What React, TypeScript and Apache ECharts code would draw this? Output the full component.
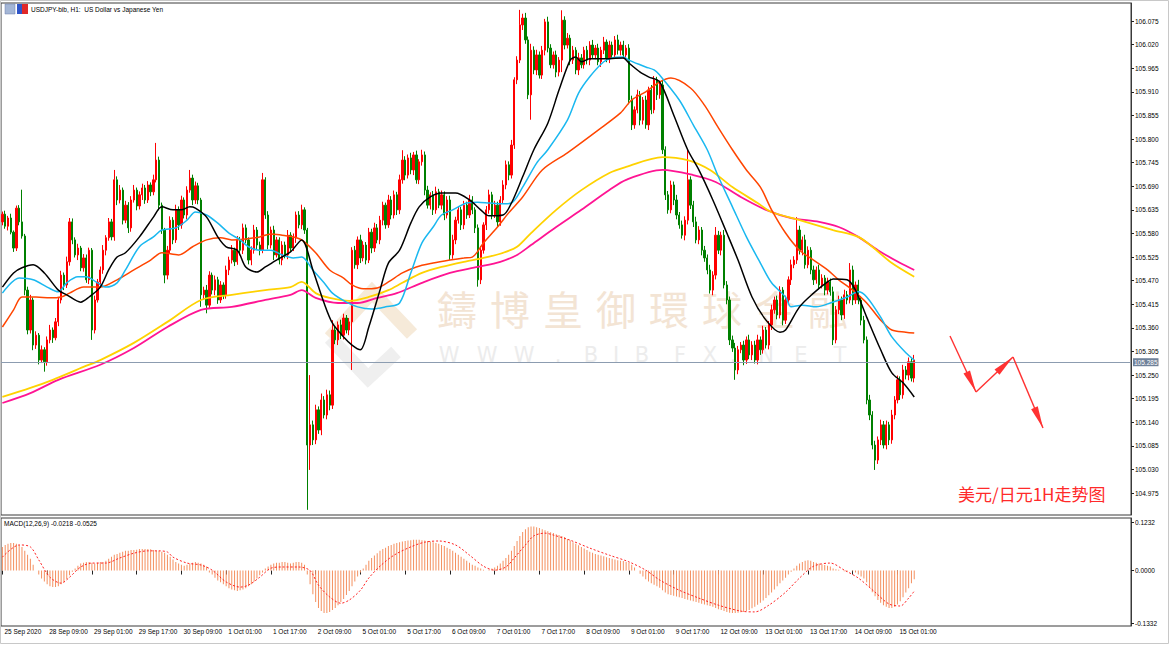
import React, { useEffect, useRef } from 'react';
import * as echarts from 'echarts';

// ---------- tick labels ----------
const timeTickLabels = [
  '25 Sep 2020', '28 Sep 09:00', '29 Sep 01:00', '29 Sep 17:00', '30 Sep 09:00', '1 Oct 01:00',
  '1 Oct 17:00', '2 Oct 09:00', '5 Oct 01:00', '5 Oct 17:00', '6 Oct 09:00', '7 Oct 01:00',
  '7 Oct 17:00', '8 Oct 09:00', '9 Oct 01:00', '9 Oct 17:00', '12 Oct 09:00', '13 Oct 01:00',
  '13 Oct 17:00', '14 Oct 09:00', '15 Oct 01:00',
];
const priceTicks = [
  104.975, 105.03, 105.085, 105.14, 105.195, 105.25, 105.305, 105.36, 105.415, 105.47, 105.525,
  105.58, 105.635, 105.69, 105.745, 105.8, 105.855, 105.91, 105.965, 106.02, 106.075,
];
const macdTicks = [-0.1332, 0, 0.1232];
const lastPrice = 105.285;

// ---------- candles (H1) ----------
const firstOpen = 105.607;
const closes = [
  105.625, 105.597, 105.616, 105.583, 105.546, 105.639, 105.607, 105.574, 105.448, 105.355,
  105.425, 105.320, 105.343, 105.285, 105.309, 105.281, 105.332, 105.355, 105.337, 105.374,
  105.425, 105.483, 105.460, 105.514, 105.607, 105.565, 105.530, 105.546, 105.500, 105.523,
  105.472, 105.541, 105.355, 105.425, 105.467, 105.495, 105.541, 105.570, 105.607, 105.572,
  105.705, 105.658, 105.681, 105.611, 105.646, 105.593, 105.658, 105.681, 105.644, 105.670,
  105.686, 105.658, 105.693, 105.677, 105.705, 105.751, 105.646, 105.588, 105.483, 105.541,
  105.611, 105.565, 105.635, 105.600, 105.658, 105.623, 105.681, 105.709, 105.658, 105.691,
  105.658, 105.437, 105.448, 105.413, 105.483, 105.448, 105.472, 105.425, 105.460, 105.437,
  105.495, 105.518, 105.541, 105.514, 105.565, 105.541, 105.593, 105.565, 105.518, 105.541,
  105.588, 105.553, 105.541, 105.705, 105.623, 105.553, 105.588, 105.530, 105.565, 105.518,
  105.553, 105.530, 105.576, 105.546, 105.570, 105.623, 105.600, 105.635, 105.588, 105.087,
  105.134, 105.099, 105.169, 105.122, 105.192, 105.157, 105.204, 105.180, 105.355, 105.332,
  105.367, 105.343, 105.383, 105.355, 105.374, 105.541, 105.507, 105.565, 105.523, 105.553,
  105.518, 105.583, 105.546, 105.593, 105.565, 105.611, 105.646, 105.600, 105.658, 105.623,
  105.670, 105.635, 105.705, 105.751, 105.716, 105.756, 105.728, 105.763, 105.705, 105.747,
  105.763, 105.681, 105.646, 105.670, 105.635, 105.677, 105.646, 105.670, 105.623, 105.658,
  105.530, 105.565, 105.611, 105.635, 105.600, 105.646, 105.623, 105.658, 105.635, 105.593,
  105.472, 105.541, 105.600, 105.635, 105.670, 105.623, 105.646, 105.607, 105.658, 105.693,
  105.740, 105.716, 105.786, 105.938, 105.984, 106.066, 106.082, 106.031, 105.903, 106.007,
  105.961, 105.996, 105.949, 106.007, 106.073, 106.012, 105.973, 105.996, 105.956, 105.984,
  106.077, 106.019, 106.035, 105.984, 106.007, 105.961, 105.989, 105.973, 106.007, 105.984,
  106.019, 105.996, 106.012, 105.980, 106.007, 106.026, 105.989, 106.019, 105.996, 106.031,
  106.007, 106.019, 105.996, 106.012, 105.891, 105.833, 105.868, 105.903, 105.844, 105.891,
  105.833, 105.914, 105.868, 105.938, 105.903, 105.926, 105.775, 105.670, 105.635, 105.693,
  105.658, 105.623, 105.600, 105.576, 105.611, 105.705, 105.646, 105.607, 105.565, 105.588,
  105.541, 105.523, 105.495, 105.448, 105.483, 105.576, 105.541, 105.576, 105.460, 105.425,
  105.332, 105.313, 105.262, 105.309, 105.320, 105.285, 105.332, 105.297, 105.320, 105.285,
  105.332, 105.309, 105.355, 105.320, 105.367, 105.402, 105.425, 105.390, 105.448, 105.378,
  105.425, 105.472, 105.507, 105.518, 105.588, 105.541, 105.565, 105.507, 105.541, 105.495,
  105.472, 105.495, 105.460, 105.476, 105.448, 105.467, 105.444, 105.332, 105.402, 105.425,
  105.390, 105.437, 105.425, 105.495, 105.425, 105.460, 105.425, 105.378, 105.332, 105.192,
  105.157, 105.087, 105.052, 105.099, 105.134, 105.087, 105.134, 105.099, 105.157, 105.192,
  105.239, 105.204, 105.262, 105.250, 105.281, 105.243, 105.285,
];
// wick lengths above / below the body, in thousandths of a yen
const wickUp = [
  6, 8, 5, 10, 4, 6, 7, 75, 5, 8, 12, 6, 9, 5, 10, 6, 8, 12, 6, 9,
  7, 10, 6, 12, 9, 8, 6, 10, 5, 9, 8, 6, 5, 10, 7, 8, 12, 6, 9, 7,
  23, 8, 12, 6, 10, 7, 9, 12, 6, 8, 10, 7, 9, 6, 12, 40, 8, 6, 5, 10,
  9, 7, 12, 8, 10, 6, 9, 19, 8, 10, 7, 5, 8, 12, 9, 6, 10, 7, 9, 6,
  10, 8, 12, 6, 9, 7, 10, 8, 6, 9, 12, 7, 8, 16, 6, 9, 8, 10, 7, 6,
  9, 8, 12, 7, 10, 8, 9, 12, 6, 5, 116, 10, 12, 8, 15, 9, 12, 10, 23, 9,
  8, 12, 10, 7, 9, 7, 10, 8, 12, 9, 7, 10, 8, 12, 9, 10, 8, 6, 12, 9,
  10, 7, 12, 23, 9, 8, 12, 7, 10, 6, 12, 8, 10, 6, 9, 12, 7, 10, 8, 9,
  10, 12, 8, 9, 7, 10, 8, 12, 9, 6, 8, 10, 6, 9, 12, 7, 10, 8, 9, 11,
  10, 8, 12, 6, 9, 35, 10, 12, 8, 15, 9, 12, 8, 10, 7, 12, 9, 8, 10, 7,
  23, 9, 12, 8, 10, 7, 12, 9, 8, 10, 9, 12, 7, 10, 8, 12, 6, 10, 8, 9,
  12, 8, 10, 7, 9, 10, 8, 12, 9, 7, 10, 8, 12, 9, 7, 10, 12, 8, 9, 10,
  8, 12, 7, 10, 9, 70, 8, 10, 12, 9, 7, 10, 8, 12, 9, 19, 10, 8, 12, 9,
  8, 10, 12, 9, 7, 10, 8, 12, 9, 10, 12, 8, 10, 7, 9, 12, 8, 10, 9, 7,
  10, 8, 12, 9, 30, 10, 8, 12, 9, 7, 10, 8, 12, 9, 7, 10, 8, 12, 9, 10,
  8, 12, 9, 16, 10, 8, 12, 9, 10, 8, 12, 9, 10, 8, 12, 9, 10, 7, 12, 9,
  10, 8, 12, 9, 10, 8, 12,
];
const wickDn = [
  8, 6, 10, 5, 9, 7, 8, 6, 12, 10, 8, 12, 9, 10, 7, 23, 9, 8, 12, 6,
  10, 8, 12, 7, 9, 10, 6, 12, 8, 9, 7, 10, 23, 8, 6, 10, 9, 12, 7, 8,
  9, 12, 8, 10, 7, 12, 9, 6, 10, 8, 12, 9, 7, 10, 8, 6, 12, 9, 19, 10,
  8, 10, 7, 12, 9, 8, 10, 6, 12, 9, 10, 28, 12, 19, 8, 10, 12, 9, 7, 10,
  9, 12, 8, 10, 7, 12, 9, 8, 10, 12, 8, 10, 12, 7, 9, 10, 8, 12, 6, 10,
  12, 8, 10, 9, 7, 12, 8, 10, 9, 151, 58, 12, 10, 9, 12, 8, 10, 12, 9, 10,
  12, 9, 10, 8, 12, 112, 9, 10, 12, 8, 10, 7, 12, 9, 8, 10, 12, 9, 7, 10,
  8, 12, 10, 9, 12, 8, 10, 12, 9, 10, 9, 12, 8, 10, 12, 9, 7, 10, 12, 8,
  12, 9, 10, 8, 12, 10, 9, 7, 10, 12, 16, 10, 8, 12, 9, 10, 7, 12, 9, 8,
  10, 12, 8, 9, 10, 7, 12, 9, 10, 58, 10, 12, 8, 9, 12, 10, 8, 9, 12, 10,
  28, 10, 8, 12, 9, 10, 12, 8, 9, 10, 12, 9, 10, 8, 12, 9, 10, 12, 8, 9,
  10, 12, 8, 9, 10, 12, 9, 8, 12, 10, 9, 12, 10, 8, 12, 9, 10, 12, 9, 8,
  12, 10, 9, 8, 12, 10, 9, 12, 8, 10, 12, 9, 10, 8, 12, 10, 9, 12, 8, 10,
  12, 9, 23, 10, 8, 12, 9, 10, 12, 8, 10, 12, 9, 8, 10, 12, 9, 10, 8, 12,
  9, 10, 12, 8, 9, 10, 12, 9, 8, 10, 12, 9, 10, 8, 12, 10, 9, 12, 8, 10,
  12, 9, 10, 8, 12, 9, 10, 12, 8, 10, 12, 10, 23, 9, 12, 8, 10, 12, 9, 10,
  8, 12, 9, 10, 12, 8, 10,
];

// ---------- moving averages, read as [bar index, price] ----------
const maBlack = [
  [0, 105.455], [4, 105.488], [7, 105.5], [11, 105.507], [15, 105.488], [20, 105.448], [23, 105.437],
  [28, 105.42], [31, 105.432], [35, 105.455], [38, 105.495], [41, 105.525], [44, 105.535], [49, 105.572],
  [54, 105.618], [57, 105.642], [61, 105.635], [64, 105.635], [67, 105.642], [69, 105.639], [73, 105.618],
  [77, 105.572], [80, 105.549], [84, 105.541], [87, 105.502], [91, 105.49], [94, 105.502], [98, 105.518],
  [103, 105.537], [107, 105.565], [111, 105.495], [115, 105.418], [118, 105.371], [122, 105.339],
  [125, 105.32], [128, 105.309], [131, 105.362], [135, 105.448], [138, 105.511], [142, 105.541],
  [146, 105.604], [149, 105.642], [153, 105.665], [157, 105.674], [162, 105.674], [167, 105.658],
  [171, 105.635], [174, 105.621], [179, 105.623], [182, 105.651], [186, 105.712], [190, 105.775],
  [195, 105.837], [199, 105.914], [203, 105.984], [205, 105.991], [207, 105.98], [210, 105.987],
  [216, 105.987], [222, 105.989], [224, 105.977], [228, 105.956], [231, 105.945], [235, 105.933],
  [240, 105.856], [245, 105.775], [249, 105.728], [254, 105.658], [259, 105.581], [263, 105.518],
  [268, 105.432], [273, 105.378], [278, 105.35], [280, 105.355], [285, 105.409], [290, 105.441],
  [295, 105.467], [297, 105.474], [302, 105.472], [305, 105.448], [309, 105.385], [314, 105.309],
  [318, 105.255], [322, 105.232], [326, 105.199],
];
const maBlue = [
  [0, 105.441], [6, 105.476], [11, 105.472], [16, 105.455], [20, 105.444], [23, 105.465], [27, 105.479],
  [30, 105.479], [34, 105.465], [37, 105.455], [41, 105.465], [44, 105.495], [49, 105.549], [54, 105.572],
  [57, 105.588], [62, 105.593], [66, 105.611], [69, 105.63], [73, 105.623], [77, 105.604], [81, 105.581],
  [85, 105.565], [88, 105.549], [92, 105.541], [96, 105.541], [100, 105.53], [104, 105.523], [107, 105.525],
  [111, 105.495], [115, 105.465], [118, 105.441], [123, 105.42], [127, 105.409], [132, 105.404],
  [137, 105.409], [142, 105.418], [146, 105.488], [150, 105.558], [154, 105.595], [157, 105.623],
  [161, 105.635], [166, 105.651], [170, 105.653], [174, 105.651], [179, 105.649], [182, 105.651],
  [186, 105.688], [191, 105.744], [195, 105.775], [202, 105.844], [206, 105.907], [210, 105.945],
  [215, 105.98], [218, 105.989], [222, 105.991], [224, 105.984], [228, 105.973], [230, 105.968],
  [233, 105.961], [235, 105.949], [242, 105.891], [247, 105.833], [252, 105.775], [256, 105.712],
  [261, 105.642], [266, 105.572], [271, 105.511], [275, 105.465], [280, 105.432], [282, 105.409],
  [286, 105.413], [291, 105.409], [296, 105.418], [302, 105.432], [306, 105.444], [309, 105.432],
  [314, 105.385], [318, 105.339], [323, 105.302], [326, 105.285],
];
const maOrange = [
  [0, 105.362], [4, 105.402], [7, 105.432], [12, 105.432], [17, 105.43], [21, 105.432], [24, 105.441],
  [29, 105.455], [35, 105.455], [41, 105.472], [47, 105.495], [53, 105.518], [57, 105.535], [63, 105.53],
  [68, 105.549], [73, 105.565], [78, 105.57], [82, 105.565], [87, 105.567], [92, 105.572], [96, 105.579],
  [100, 105.576], [104, 105.572], [107, 105.565], [112, 105.535], [117, 105.495], [122, 105.476],
  [125, 105.46], [129, 105.451], [134, 105.453], [138, 105.467], [143, 105.488], [148, 105.502],
  [154, 105.511], [160, 105.518], [165, 105.523], [168, 105.525], [172, 105.558], [177, 105.595],
  [181, 105.628], [186, 105.665], [193, 105.728], [202, 105.768], [213, 105.821], [221, 105.861],
  [225, 105.891], [230, 105.91], [235, 105.933], [239, 105.942], [246, 105.919], [251, 105.879],
  [256, 105.826], [261, 105.775], [266, 105.728], [271, 105.688], [275, 105.635], [280, 105.581],
  [285, 105.541], [290, 105.518], [295, 105.495], [299, 105.472], [304, 105.448], [309, 105.418],
  [314, 105.378], [318, 105.355], [323, 105.35], [326, 105.348],
];
const maYellow = [
  [0, 105.199], [10, 105.22], [18, 105.239], [29, 105.269], [35, 105.285], [47, 105.325], [59, 105.374],
  [71, 105.425], [82, 105.437], [94, 105.448], [103, 105.455], [107, 105.467], [112, 105.441],
  [117, 105.43], [124, 105.423], [131, 105.432], [138, 105.448], [143, 105.465], [150, 105.488],
  [157, 105.502], [165, 105.514], [172, 105.523], [179, 105.535], [184, 105.549], [189, 105.581],
  [198, 105.635], [207, 105.681], [217, 105.721], [223, 105.735], [236, 105.758], [245, 105.751],
  [253, 105.728], [261, 105.688], [270, 105.651], [275, 105.63], [285, 105.611], [297, 105.588],
  [306, 105.572], [311, 105.549], [318, 105.511], [326, 105.479],
];
const maPink = [
  [0, 105.185], [10, 105.208], [20, 105.239], [35, 105.274], [47, 105.313], [59, 105.362], [71, 105.402],
  [82, 105.409], [94, 105.425], [103, 105.437], [107, 105.448], [112, 105.43], [120, 105.418],
  [127, 105.418], [134, 105.43], [141, 105.441], [150, 105.465], [160, 105.488], [170, 105.502],
  [178, 105.514], [184, 105.53], [189, 105.553], [198, 105.595], [207, 105.635], [217, 105.681],
  [223, 105.705], [236, 105.728], [247, 105.716], [255, 105.7], [264, 105.665], [273, 105.635],
  [282, 105.616], [292, 105.607], [299, 105.595], [306, 105.572], [313, 105.541], [321, 105.511],
  [326, 105.495],
];

// ---------- MACD(12,26,9) ----------
const macdMain = [
  0.060, 0.065, 0.068, 0.070, 0.070, 0.068, 0.065,
  0.060, 0.050, 0.040, 0.030,
  0.015, 0.000, -0.010,
  -0.020, -0.028, -0.035, -0.040, -0.042, -0.042, -0.040, -0.035, -0.030,
  -0.022, -0.012, -0.003, 0.005,
  0.012, 0.018, 0.020, 0.022, 0.022, 0.020, 0.018, 0.020, 0.022, 0.022,
  0.025, 0.030, 0.035, 0.040, 0.042, 0.045, 0.048, 0.050, 0.050, 0.052, 0.052, 0.053, 0.055, 0.055, 0.055, 0.055, 0.054, 0.052, 0.050, 0.050, 0.048, 0.045,
  0.040, 0.035, 0.028, 0.022, 0.018, 0.015, 0.012, 0.015, 0.018, 0.020, 0.022, 0.020, 0.018, 0.015, 0.010,
  -0.005, -0.010, -0.018, -0.025, -0.030, -0.035, -0.040, -0.045, -0.048, -0.050, -0.052, -0.050, -0.048, -0.045, -0.040, -0.035, -0.028, -0.020, -0.012, -0.005,
  0.005, 0.010, 0.015, 0.018, 0.020, 0.020, 0.022, 0.022, 0.020, 0.018, 0.020, 0.022, 0.022, 0.020,
  0.015,
  -0.010, -0.035, -0.060, -0.080, -0.095, -0.103, -0.108, -0.108, -0.105, -0.100, -0.095, -0.088, -0.080, -0.072, -0.062, -0.052,
  -0.040, -0.028, -0.015, -0.005, 0.005, 0.015, 0.025, 0.032, 0.038, 0.044, 0.050,
  0.055, 0.058, 0.062, 0.065, 0.068, 0.070, 0.072, 0.074, 0.075, 0.076, 0.077, 0.078, 0.078, 0.078, 0.077, 0.076, 0.075, 0.074, 0.072, 0.070, 0.068, 0.065, 0.062, 0.058, 0.055,
  0.050, 0.045, 0.040, 0.035, 0.030, 0.025, 0.020, 0.015, 0.012, 0.008, 0.005, 0.002, 0.000, 0.002, 0.005, 0.008, 0.012, 0.018, 0.025, 0.032,
  0.040, 0.050, 0.062, 0.075, 0.088, 0.098, 0.105, 0.110, 0.112, 0.112, 0.110, 0.108, 0.105, 0.102, 0.100, 0.097, 0.095, 0.092, 0.090, 0.088,
  0.085, 0.080, 0.076, 0.072, 0.068, 0.064, 0.060, 0.056, 0.052, 0.048, 0.045, 0.042, 0.040, 0.038, 0.036, 0.034, 0.032, 0.030, 0.028, 0.026, 0.025, 0.024, 0.022, 0.020, 0.015,
  0.008, 0.000, -0.008, -0.015, -0.022, -0.028, -0.032, -0.036, -0.040, -0.044, -0.050, -0.056, -0.060, -0.062, -0.064, -0.066, -0.068, -0.070, -0.072, -0.074, -0.076, -0.078, -0.080, -0.082, -0.084, -0.086, -0.088, -0.090, -0.092, -0.095, -0.098, -0.100, -0.103, -0.105, -0.107,
  -0.108, -0.108, -0.107, -0.106, -0.105, -0.103, -0.100, -0.096, -0.092, -0.087, -0.082, -0.076, -0.070, -0.063, -0.056,
  -0.048, -0.040, -0.032, -0.025, -0.018, -0.010, -0.003, 0.005, 0.012, 0.018, 0.022, 0.025, 0.026, 0.025, 0.022,
  0.020, 0.018, 0.016, 0.014, 0.012, 0.010, 0.005, 0.003, 0.002, 0.000, -0.002, -0.003, 0.000, -0.002, -0.005, -0.010, -0.015, -0.020,
  -0.030, -0.042, -0.055, -0.065, -0.075, -0.082, -0.088, -0.092, -0.095, -0.095, -0.092, -0.086, -0.078, -0.068, -0.056, -0.045, -0.032, -0.022,
];
const macdSignal = [
  [0, 0.034], [6, 0.065], [10, 0.06], [13, 0.027], [17, -0.017], [21, -0.032], [24, -0.017], [28, 0.009],
  [32, 0.019], [37, 0.019], [42, 0.032], [47, 0.044], [52, 0.05], [56, 0.05], [59, 0.047], [61, 0.034],
  [66, 0.019], [71, 0.014], [75, 0.001], [80, -0.029], [85, -0.042], [88, -0.037], [92, -0.017], [96, 0.006],
  [100, 0.009], [106, 0.009], [110, 0.0], [113, -0.037], [117, -0.067], [121, -0.083], [124, -0.075],
  [128, -0.05], [131, -0.019], [135, 0.011], [140, 0.039], [146, 0.06], [151, 0.072], [156, 0.075],
  [162, 0.065], [167, 0.039], [172, 0.011], [176, 0.001], [180, 0.009], [183, 0.032], [187, 0.065],
  [190, 0.088], [194, 0.095], [197, 0.09], [203, 0.077], [210, 0.057], [217, 0.039], [224, 0.022],
  [230, 0.001], [235, -0.024], [242, -0.05], [249, -0.07], [256, -0.088], [264, -0.103], [269, -0.105],
  [274, -0.088], [280, -0.055], [285, -0.019], [290, 0.011], [296, 0.019], [301, 0.001], [306, -0.019],
  [312, -0.055], [317, -0.085], [321, -0.09], [324, -0.07], [326, -0.0525],
];

const CATEGORY_COUNT = 404;
const FONT = 'Liberation Sans';

function buildCandles() {
  return closes.map((c, i) => {
    const o = i === 0 ? firstOpen : closes[i - 1];
    const hi = Math.max(o, c) + wickUp[i] / 1000;
    const lo = Math.min(o, c) - wickDn[i] / 1000;
    return [o, c, +lo.toFixed(3), +hi.toFixed(3)];
  });
}

function arrowHead(x1: number, y1: number, x2: number, y2: number, len: number, half: number) {
  const dx = x2 - x1;
  const dy = y2 - y1;
  const d = Math.sqrt(dx * dx + dy * dy);
  const ux = dx / d;
  const uy = dy / d;
  const bx = x2 - ux * len;
  const by = y2 - uy * len;
  return [
    [x2, y2],
    [bx - uy * half, by + ux * half],
    [bx + uy * half, by - ux * half],
  ];
}

export default function App() {
  const ref = useRef<HTMLDivElement>(null);

  useEffect(() => {
    if (!ref.current) return;
    const chart = echarts.init(ref.current, undefined, { renderer: 'svg' });
    const categories = Array.from({ length: CATEGORY_COUNT }, (_, i) => String(i));
    const showTick = (idx: number) => idx % 16 === 0 && idx / 16 < timeTickLabels.length;

    const arrows = [
      [950, 336, 976, 392],
      [976, 392, 1013, 357],
      [1013, 357, 1043, 428],
    ];
    const arrowGraphics: any[] = [];
    arrows.forEach(([a, b, c, d]) => {
      arrowGraphics.push({
        type: 'line', z: 20,
        shape: { x1: a, y1: b, x2: c, y2: d },
        style: { stroke: '#ff3232', lineWidth: 1.4 },
      });
      arrowGraphics.push({
        type: 'polygon', z: 20,
        shape: { points: arrowHead(a, b, c, d, 22, 3.6) },
        style: { fill: '#ff3232' },
      });
    });

    const wmChars = ['鑄', '博', '皇', '御', '環', '球', '金', '融'];
    const wmGraphics: any[] = wmChars.map((ch, k) => ({
      type: 'text', z: 0,
      x: 457 + 53 * k, y: 308,
      style: { text: ch, fill: '#f3e4d4', fontSize: 40, fontFamily: 'Noto Sans CJK TC', align: 'center', verticalAlign: 'middle' },
    }));
    const urlChars: [string, number][] = [
      ['W', 449], ['W', 487], ['W', 524], ['.', 558], ['B', 591], ['I', 616], ['B', 642],
      ['F', 680], ['X', 710], ['.', 733], ['N', 766], ['E', 801], ['T', 840],
    ];
    urlChars.forEach(([ch, x]) => {
      wmGraphics.push({
        type: 'text', z: 0, x, y: 355,
        style: { text: ch, fill: '#ececec', fontSize: 21, fontFamily: 'DejaVu Sans', align: 'center', verticalAlign: 'middle' },
      });
    });

    const option: any = {
      animation: false,
      backgroundColor: '#ffffff',
      grid: [
        { left: 1, top: 3, width: 1130, height: 512, show: true, borderColor: '#3a3a3a', borderWidth: 1 },
        { left: 1, top: 518, width: 1130, height: 108, show: true, borderColor: '#3a3a3a', borderWidth: 1 },
      ],
      xAxis: [
        { type: 'category', gridIndex: 0, data: categories, boundaryGap: true, show: false },
        {
          type: 'category', gridIndex: 1, data: categories, boundaryGap: true,
          axisLine: { show: false },
          axisTick: { show: true, interval: showTick, alignWithLabel: true, length: 4, lineStyle: { color: '#222' } },
          axisLabel: {
            interval: showTick,
            formatter: (_v: string, idx: number) => (idx % 16 === 0 ? timeTickLabels[idx / 16] ?? '' : ''),
            align: 'left', margin: 2, padding: [0, 0, 0, 2],
            fontSize: 6.5, color: '#000', fontFamily: FONT,
          },
          splitLine: { show: false },
        },
      ],
      yAxis: [
        {
          type: 'value', gridIndex: 0, position: 'right', min: 104.924, max: 106.117, scale: true,
          splitLine: { show: false },
          axisLine: { show: true, lineStyle: { color: '#3a3a3a' } },
          axisTick: { show: true, length: 3, customValues: priceTicks, lineStyle: { color: '#222' } },
          axisLabel: {
            customValues: priceTicks, formatter: (v: number) => v.toFixed(3),
            margin: 4, fontSize: 6.5, color: '#000', fontFamily: FONT,
          },
        },
        {
          type: 'value', gridIndex: 1, position: 'right', min: -0.1408, max: 0.1334,
          splitLine: { show: false },
          axisLine: { show: true, lineStyle: { color: '#3a3a3a' } },
          axisTick: { show: true, length: 3, customValues: macdTicks, lineStyle: { color: '#222' } },
          axisLabel: {
            customValues: macdTicks, formatter: (v: number) => v.toFixed(4),
            margin: 4, fontSize: 6.5, color: '#000', fontFamily: FONT,
          },
        },
      ],
      series: [
        {
          type: 'candlestick', xAxisIndex: 0, yAxisIndex: 0,
          data: buildCandles(), barWidth: 1.8,
          itemStyle: { color: '#ff0000', color0: '#008000', borderColor: '#ff0000', borderColor0: '#008000', borderWidth: 1 },
          markLine: {
            silent: true, symbol: 'none', animation: false,
            data: [{ yAxis: lastPrice }],
            lineStyle: { color: '#8c9cb0', width: 1, type: 'solid' },
            label: {
              show: true, position: 'end', distance: 2, formatter: lastPrice.toFixed(3),
              backgroundColor: '#6f8199', color: '#ffffff', fontSize: 6.5, fontFamily: FONT, padding: [1, 1, 0, 1],
            },
          },
        },
        { type: 'line', xAxisIndex: 0, yAxisIndex: 0, data: maPink, symbol: 'none', smooth: 0.3, lineStyle: { color: '#ff1493', width: 1.8 } },
        { type: 'line', xAxisIndex: 0, yAxisIndex: 0, data: maYellow, symbol: 'none', smooth: 0.3, lineStyle: { color: '#ffd200', width: 1.8 } },
        { type: 'line', xAxisIndex: 0, yAxisIndex: 0, data: maOrange, symbol: 'none', smooth: 0.3, lineStyle: { color: '#ff4500', width: 1.5 } },
        { type: 'line', xAxisIndex: 0, yAxisIndex: 0, data: maBlue, symbol: 'none', smooth: 0.3, lineStyle: { color: '#1ab8f0', width: 1.5 } },
        { type: 'line', xAxisIndex: 0, yAxisIndex: 0, data: maBlack, symbol: 'none', smooth: 0.3, lineStyle: { color: '#000000', width: 1.5 } },
        {
          type: 'bar', xAxisIndex: 1, yAxisIndex: 1, data: macdMain, barWidth: 1,
          itemStyle: { color: '#f4905f' },
        },
        {
          type: 'line', xAxisIndex: 1, yAxisIndex: 1, data: macdSignal, symbol: 'none', smooth: 0.3,
          lineStyle: { color: '#ff2020', width: 1, type: [2, 2] },
        },
      ],
      graphic: [
        {
          type: 'rect', z: 50, silent: true,
          shape: { x: 0.5, y: 0.5, width: 1168, height: 643 },
          style: { fill: 'none', stroke: '#c8c8c8', lineWidth: 1 },
        },
        { type: 'rect', z: 30, shape: { x: 5, y: 4, width: 10, height: 10 }, style: { fill: '#a4b6d6', stroke: '#6d7fa8', lineWidth: 0.5 } },
        { type: 'rect', z: 30, shape: { x: 17, y: 4, width: 5, height: 10 }, style: { fill: '#2f55c8' } },
        { type: 'rect', z: 30, shape: { x: 22, y: 4, width: 6, height: 10 }, style: { fill: '#e02828' } },
        {
          type: 'text', z: 30, x: 31, y: 9,
          style: { text: 'USDJPY-bib, H1:  US Dollar vs Japanese Yen', fill: '#000', fontSize: 6.5, fontFamily: FONT, verticalAlign: 'middle' },
        },
        {
          type: 'text', z: 30, x: 4, y: 523,
          style: { text: 'MACD(12,26,9) -0.0218 -0.0525', fill: '#000', fontSize: 6.5, fontFamily: FONT, verticalAlign: 'middle' },
        },
        {
          type: 'polyline', z: 0,
          shape: { points: [[330, 338], [372, 292], [412, 334]] },
          style: { stroke: '#f6ead9', lineWidth: 14, fill: 'none' },
        },
        {
          type: 'polyline', z: 0,
          shape: { points: [[330, 338], [368, 378], [396, 352]] },
          style: { stroke: '#efefef', lineWidth: 14, fill: 'none' },
        },
        ...wmGraphics,
        ...arrowGraphics,
        {
          type: 'text', z: 20, x: 958, y: 493,
          style: { text: '美元/日元1H走势图', fill: '#ff2a2a', fontSize: 17, fontFamily: 'Noto Sans CJK SC', verticalAlign: 'middle' },
        },
      ],
    };

    chart.setOption(option);
    return () => chart.dispose();
  }, []);

  return (
    <div
      ref={ref}
      style={{ position: 'fixed', left: 0, top: 0, width: 1170, height: 645, background: '#ffffff' }}
    />
  );
}
